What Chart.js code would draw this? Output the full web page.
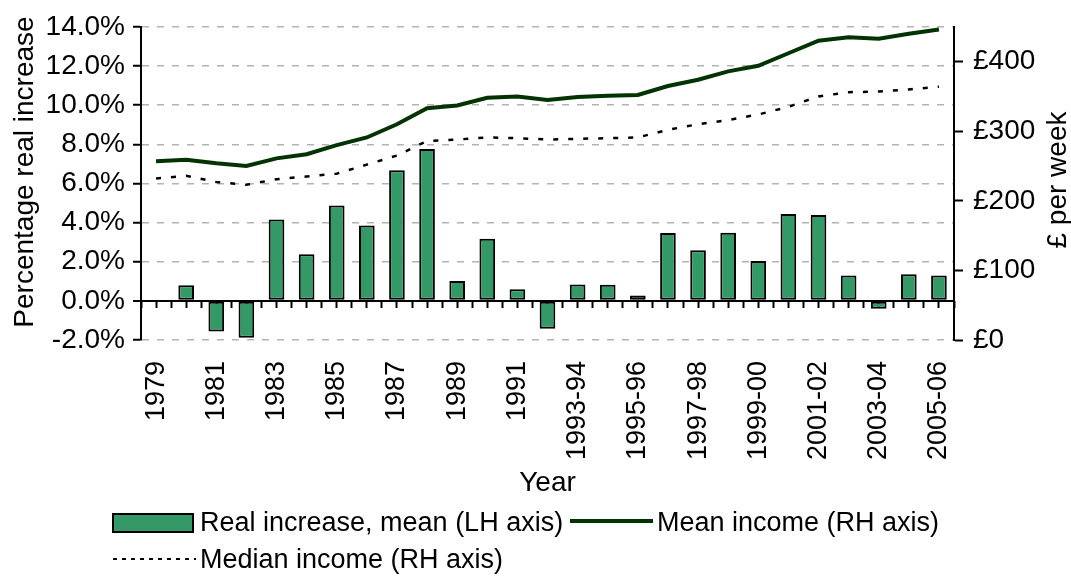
<!DOCTYPE html>
<html lang="en">

<head>
    <meta charset="UTF-8">
    <script src="https://cdn.jsdelivr.net/npm/chart.js"></script>
    <title>Income growth</title>
    <style>
        body { margin: 0; background: #fff; }
    </style>
</head>

<body>
    <canvas id="income" width="1071" height="577"></canvas>
</body>

<script>
    // data
    const years = ['1979', '1980', '1981', '1982', '1983', '1984', '1985', '1986', '1987', '1988',
        '1989', '1990', '1991', '1992', '1993-94', '1994-95', '1995-96', '1996-97', '1997-98',
        '1998-99', '1999-00', '2000-01', '2001-02', '2002-03', '2003-04', '2004-05', '2005-06'];
    const real_increase = [null, 0.8, -1.57, -1.88, 4.15, 2.38, 4.87, 3.85, 6.67, 7.76,
        1.02, 3.17, 0.59, -1.42, 0.84, 0.82, 0.27, 3.47, 2.58,
        3.48, 2.04, 4.44, 4.39, 1.29, -0.4, 1.36, 1.29];
    const mean_income = [257, 259, 254, 250, 261, 267, 280, 291, 310, 333,
        337, 348, 350, 345, 349, 351, 352, 365, 374,
        386, 394, 412, 430, 435, 433, 440, 446];
    const median_income = [232, 236, 227, 223, 231, 235, 239, 252, 265, 286,
        288, 291, 290, 288, 289, 290, 291, 302, 310,
        316, 324, 335, 350, 356, 357, 360, 364];

    const FONT = '"Liberation Sans", Arial, sans-serif';
    const BAR_GREEN = '#339966';
    const MEAN_GREEN = '#003300';

    Chart.defaults.font.family = FONT;
    Chart.defaults.font.size = 28;
    Chart.defaults.color = '#000';

    function is_zero(c) {
        return c.tick && c.tick.value === 0;
    }

    // small tick marks hanging under the zero line (one scale for centres, one for boundaries)
    function zero_ticks(on_boundary) {
        return {
            type: 'category',
            position: { y: 0 },
            offset: true,
            grid: {
                offset: on_boundary,
                drawOnChartArea: false,
                drawTicks: true,
                tickLength: 7,
                tickColor: '#000',
                tickWidth: 2
            },
            ticks: { display: false, autoSkip: false },
            border: { display: false }
        };
    }

    // axis titles and the legend
    const extras = {
        id: 'extras',
        afterDraw(chart) {
            let ctx = chart.ctx;
            let area = chart.chartArea;
            ctx.save();
            ctx.setLineDash([]);
            ctx.fillStyle = '#000';
            ctx.font = '28px ' + FONT;
            ctx.textAlign = 'center';
            ctx.textBaseline = 'middle';

            ctx.save();
            ctx.translate(25, 172);
            ctx.rotate(-Math.PI / 2);
            ctx.fillText('Percentage real increase', 0, 0);
            ctx.restore();

            ctx.save();
            ctx.translate(1058, 180);
            ctx.rotate(-Math.PI / 2);
            ctx.fillText('£ per week', 0, 0);
            ctx.restore();

            ctx.fillText('Year', (area.left + area.right) / 2, 483);

            // legend
            ctx.font = '27px ' + FONT;
            ctx.textAlign = 'left';
            ctx.fillStyle = BAR_GREEN;
            ctx.fillRect(113, 514, 80, 18);
            ctx.strokeStyle = '#000';
            ctx.lineWidth = 2;
            ctx.strokeRect(113, 514, 80, 18);
            ctx.fillStyle = '#000';
            ctx.fillText('Real increase, mean (LH axis)', 200, 524);

            ctx.strokeStyle = MEAN_GREEN;
            ctx.lineWidth = 4;
            ctx.beginPath();
            ctx.moveTo(570, 521);
            ctx.lineTo(653, 521);
            ctx.stroke();
            ctx.fillText('Mean income (RH axis)', 657, 524);

            ctx.strokeStyle = '#000';
            ctx.lineWidth = 2;
            ctx.setLineDash([4, 5]);
            ctx.beginPath();
            ctx.moveTo(113, 559);
            ctx.lineTo(196, 559);
            ctx.stroke();
            ctx.setLineDash([]);
            ctx.fillText('Median income (RH axis)', 200, 561);
            ctx.restore();
        }
    };

    let income_chart = new Chart(document.getElementById('income').getContext('2d'), {
        data: {
            labels: years,
            datasets: [{
                type: 'line',
                label: 'Mean income (RH axis)',
                data: mean_income,
                yAxisID: 'y1',
                borderColor: MEAN_GREEN,
                borderWidth: 4,
                pointRadius: 0,
                order: 1
            }, {
                type: 'line',
                label: 'Median income (RH axis)',
                data: median_income,
                yAxisID: 'y1',
                borderColor: '#000',
                borderWidth: 2.5,
                borderDash: [5, 10],
                pointRadius: 0,
                order: 1
            }, {
                type: 'bar',
                label: 'Real increase, mean (LH axis)',
                data: real_increase,
                yAxisID: 'y',
                backgroundColor: BAR_GREEN,
                borderColor: '#000',
                borderWidth: 2,
                borderSkipped: false,
                barPercentage: 1,
                categoryPercentage: 0.52,
                order: 2
            }]
        },
        options: {
            responsive: false,
            animation: false,
            layout: { padding: { top: 22, left: 0, right: 0, bottom: 0 } },
            plugins: {
                legend: { display: false },
                tooltip: { enabled: false }
            },
            scales: {
                x: {
                    offset: true,
                    grid: { display: false },
                    border: { display: false },
                    ticks: {
                        autoSkip: false,
                        minRotation: 90,
                        maxRotation: 90,
                        padding: 13,
                        font: { size: 27 },
                        callback: function (val, index) {
                            return index % 2 === 0 ? this.getLabelForValue(val) : '';
                        }
                    },
                    afterFit: function (scale) { scale.height = 237; }
                },
                xCentre: zero_ticks(false),
                xEdge: zero_ticks(true),
                y: {
                    position: 'left',
                    min: -2,
                    max: 14,
                    ticks: {
                        stepSize: 2,
                        padding: 8,
                        callback: v => v.toFixed(1) + '%'
                    },
                    grid: {
                        color: c => is_zero(c) ? '#000' : '#b3b3b3',
                        lineWidth: c => is_zero(c) ? 2 : 1.5,
                        tickColor: '#000',
                        tickLength: 8,
                        tickWidth: 2,
                        tickBorderDash: []
                    },
                    border: {
                        display: true,
                        color: '#000',
                        width: 2,
                        dash: c => is_zero(c) ? [] : [7, 8]
                    },
                    afterFit: function (scale) { scale.width = 141; }
                },
                y1: {
                    position: 'right',
                    min: 0,
                    max: 450,
                    ticks: {
                        stepSize: 100,
                        padding: 10,
                        callback: v => '£' + v
                    },
                    afterBuildTicks: function (scale) {
                        scale.ticks = scale.ticks.filter(t => t.value % 100 === 0);
                    },
                    grid: {
                        drawOnChartArea: false,
                        tickColor: '#000',
                        tickLength: 9,
                        tickWidth: 2
                    },
                    border: { display: true, color: '#000', width: 2 },
                    afterFit: function (scale) { scale.width = 117; }
                }
            }
        },
        plugins: [extras]
    });
</script>

</html>
